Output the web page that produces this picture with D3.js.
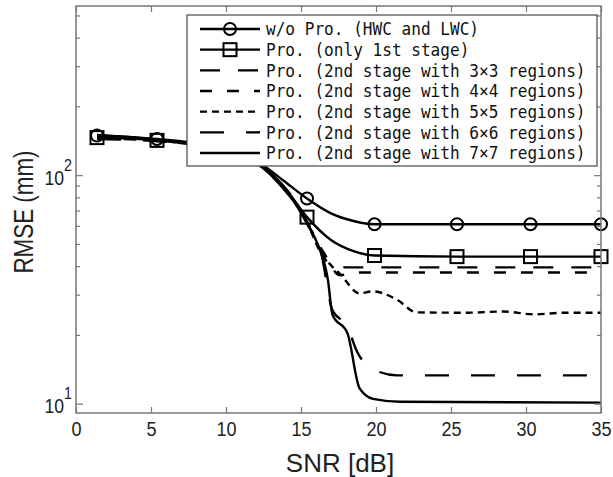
<!DOCTYPE html>
<html>
<head>
<meta charset="utf-8">
<script src="https://cdn.jsdelivr.net/npm/d3@7"></script>
<style>
  body { margin: 0; background: #fff; }
  .tick-label, .axis-title { font-family: "Liberation Sans", sans-serif; fill: #222; }
  .legend-text { font-family: "DejaVu Sans Mono", "Liberation Mono", monospace; font-size: 17.5px; fill: #111; }
</style>
</head>
<body>
<div id="root"></div>
<script>
// series names (legend order)
const seriesNames = [
  "w/o Pro. (HWC and LWC)",
  "Pro. (only 1st stage)",
  "Pro. (2nd stage with 3×3 regions)",
  "Pro. (2nd stage with 4×4 regions)",
  "Pro. (2nd stage with 5×5 regions)",
  "Pro. (2nd stage with 6×6 regions)",
  "Pro. (2nd stage with 7×7 regions)"
];

// SNR positions where markers sit
const markerSnr = [1.4, 5.4, 10.4, 15.4, 19.9, 25.4, 30.3, 35];

// [SNR dB, RMSE mm]
const woPro = [[1.4, 149], [5.4, 144], [10.4, 128], [12, 116], [13.8, 95], [15.4, 79], [17, 68], [18.5, 63], [19.9, 61], [25.4, 61], [30.3, 61], [35, 61]];
const proFirst = [[1.4, 146], [5.4, 142], [10.4, 127], [12, 115], [13.8, 90], [15.4, 65.5], [17, 52], [18.5, 46.5], [19.9, 44.5], [25.4, 44], [30.3, 44], [35, 44]];
const pro3x3 = [[1.4, 148], [5.4, 143], [10.4, 126], [12, 114], [13.8, 90], [14.5, 79], [15.5, 61], [16.9, 41], [18.1, 39.5], [20, 39.5], [25, 39.5], [30, 39.5], [35, 39.5]];
const pro4x4 = [[1.4, 145], [5.4, 141], [10.4, 126], [12, 114], [13.8, 89], [14.5, 78], [15.5, 60], [16.5, 46], [17.6, 36.5], [18.5, 37.5], [20, 37.5], [25, 37.5], [30, 37.5], [35, 37.5]];
const pro5x5 = [[1.4, 147], [5.4, 142], [10.4, 126], [12, 114], [13.8, 89], [14.5, 78], [15.5, 60], [16.3, 46], [16.9, 41], [17.6, 37], [18.9, 30.4], [19.8, 31], [21.4, 28.5], [22.7, 25.1], [26, 25], [28.5, 25.3], [30.5, 24.6], [32.5, 25], [35, 25]];
const pro6x6 = [[1.4, 144], [5.4, 141], [10.4, 125], [12, 113], [13.8, 88], [14.5, 77], [15.5, 60], [16.3, 47], [17.1, 25.6], [18.1, 21.7], [18.7, 17.1], [19.6, 14.4], [21.4, 13.3], [25, 13.3], [35, 13.3]];
const pro7x7 = [[1.4, 150], [5.4, 143], [10.4, 125], [12, 113], [13.8, 88], [14.5, 77], [15.5, 60], [16.1, 50], [16.8, 34.6], [17.1, 24.5], [18.1, 20.3], [18.9, 11.7], [19.8, 10.5], [21.6, 10.2], [35, 10.1]];

const allSeries = [woPro, proFirst, pro3x3, pro4x4, pro5x5, pro6x6, pro7x7];

// axis ticks
const xTicks = [0, 5, 10, 15, 20, 25, 30, 35];
const yMajor = [10, 100];
const yMinor = [20, 30, 40, 50, 60, 70, 80, 90, 200, 300, 400, 500];

// styles per series (separate from data)
const dashes = [null, null, "20,18", "12,15", "7,5", "24,22", null];
const markers = ["circle", "square", null, null, null, null, null];

const outerWidth = 613;
const outerHeight = 477;
const margin = { top: 6, right: 12, bottom: 64, left: 76 };
const width = outerWidth - margin.left - margin.right;
const height = outerHeight - margin.top - margin.bottom;

const x = d3.scaleLinear().domain([0, 35]).range([0, width]);
const y = d3.scaleLog().domain([9.1, 550]).range([height, 0]);

const svg = d3.select("#root").append("svg")
  .attr("width", outerWidth)
  .attr("height", outerHeight);

const chart = svg.append("g")
  .attr("transform", `translate(${margin.left}, ${margin.top})`);

const line = d3.line()
  .x(d => x(d[0]))
  .y(d => y(d[1]))
  .curve(d3.curveMonotoneX);

// curves
allSeries.forEach((s, i) => {
  chart.append("path")
    .datum(s)
    .attr("d", line)
    .attr("fill", "none")
    .attr("stroke", "#000")
    .attr("stroke-width", 2.4)
    .attr("stroke-dasharray", dashes[i]);
});

function drawMarker(g, type, cx, cy) {
  if (type === "circle") {
    g.append("circle").attr("cx", cx).attr("cy", cy).attr("r", 6)
      .attr("fill", "none").attr("stroke", "#000").attr("stroke-width", 2);
  } else if (type === "square") {
    g.append("rect").attr("x", cx - 6.5).attr("y", cy - 6.5)
      .attr("width", 13).attr("height", 13)
      .attr("fill", "none").attr("stroke", "#000").attr("stroke-width", 2);
  }
}

allSeries.forEach((s, i) => {
  if (!markers[i]) return;
  s.filter(d => markerSnr.includes(d[0]))
    .forEach(d => drawMarker(chart, markers[i], x(d[0]), y(d[1])));
});

// axes
const axisColor = "#777";

const xAxis = chart.append("g")
  .attr("transform", `translate(0, ${height})`)
  .call(d3.axisBottom(x).tickValues(xTicks).tickSize(-6).tickPadding(8));
chart.append("g")
  .call(d3.axisTop(x).tickValues(xTicks).tickSize(-6).tickFormat(""));

const yAxis = chart.append("g")
  .call(d3.axisLeft(y).tickValues(yMajor).tickSize(-7).tickFormat(""));
chart.append("g")
  .call(d3.axisLeft(y).tickValues(yMinor).tickSize(-4).tickFormat(""));
chart.append("g")
  .attr("transform", `translate(${width}, 0)`)
  .call(d3.axisRight(y).tickValues(yMajor).tickSize(-7).tickFormat(""));
chart.append("g")
  .attr("transform", `translate(${width}, 0)`)
  .call(d3.axisRight(y).tickValues(yMinor).tickSize(-4).tickFormat(""));

chart.selectAll(".domain").remove();
chart.selectAll(".tick line").attr("stroke", axisColor).attr("stroke-width", 1.2);

xAxis.selectAll(".tick text")
  .attr("class", "tick-label")
  .attr("font-family", null)
  .attr("transform", "scale(0.86,1)")
  .style("font-size", "21px");

yAxis.selectAll(".tick").each(function(d) {
  const t = d3.select(this).append("text")
    .attr("class", "tick-label")
    .attr("transform", "translate(-4, 0) scale(0.84,1)")
    .attr("y", 9)
    .attr("text-anchor", "end")
    .style("font-size", "21px");
  t.append("tspan").text("10");
  t.append("tspan")
    .attr("dy", -14)
    .style("font-size", "17px")
    .text(Math.round(Math.log10(d)));
});

chart.append("rect")
  .attr("width", width)
  .attr("height", height)
  .attr("fill", "none")
  .attr("stroke", axisColor)
  .attr("stroke-width", 1.5);

// legend
const legendBox = { x: 187, y: 15, w: 410, h: 151 };
const legend = svg.append("g");
legend.append("rect")
  .attr("x", legendBox.x).attr("y", legendBox.y)
  .attr("width", legendBox.w).attr("height", legendBox.h)
  .attr("fill", "#fff")
  .attr("stroke", "#555")
  .attr("stroke-width", 1.3);

const rowY = d3.scalePoint().domain(d3.range(seriesNames.length)).range([29, 153]);

seriesNames.forEach((name, i) => {
  const ry = rowY(i);
  legend.append("line")
    .attr("x1", 200).attr("x2", 260)
    .attr("y1", ry).attr("y2", ry)
    .attr("stroke", "#000")
    .attr("stroke-width", 2.4)
    .attr("stroke-dasharray", dashes[i]);
  if (markers[i]) drawMarker(legend, markers[i], 230, ry);
  legend.append("text")
    .attr("class", "legend-text")
    .attr("transform", `translate(266, ${ry}) scale(0.92,1)`)
    .attr("dy", "0.36em")
    .text(name);
});

// axis titles
svg.append("text")
  .attr("class", "axis-title")
  .attr("x", 340)
  .attr("y", 472)
  .attr("text-anchor", "middle")
  .style("font-size", "26px")
  .text("SNR [dB]");

svg.append("text")
  .attr("class", "axis-title")
  .attr("transform", "translate(33, 212) rotate(-90) scale(0.8,1)")
  .attr("text-anchor", "middle")
  .style("font-size", "28px")
  .text("RMSE (mm)");
</script>
</body>
</html>
